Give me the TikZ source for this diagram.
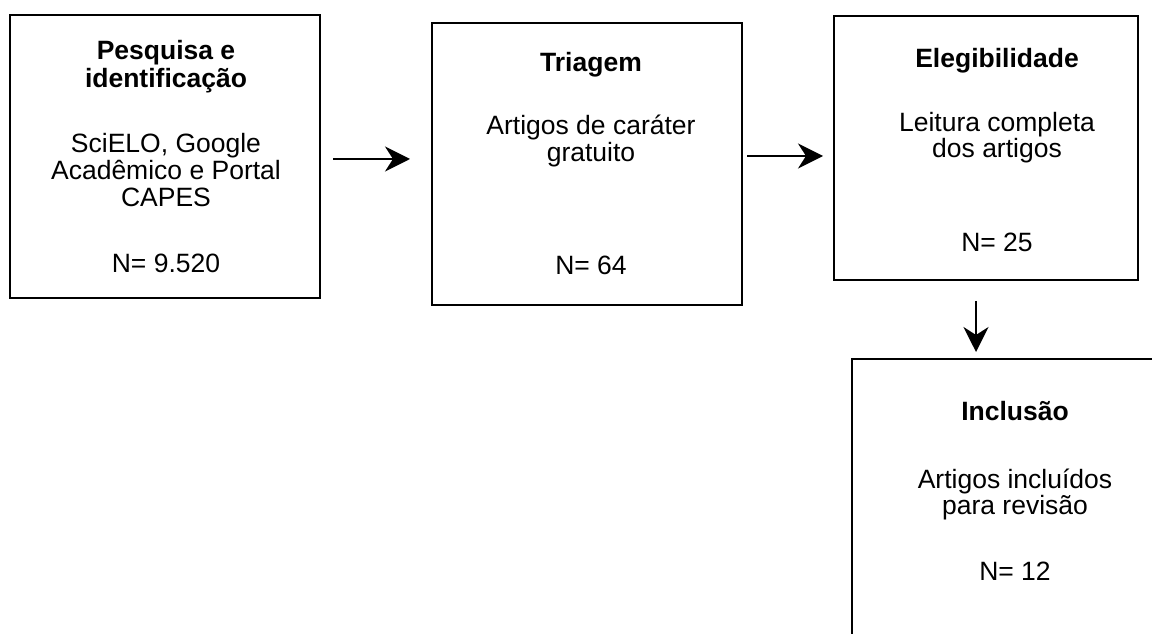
\documentclass[tikz,border=0pt]{standalone}
\usepackage{fontspec}
\setmainfont{Liberation Sans}
\usetikzlibrary{arrows.meta}
\begin{document}
\begin{tikzpicture}[x=1pt,y=1pt,
  box/.style={draw=black,line width=2pt,rectangle,inner sep=0pt},
  ln/.style={anchor=base,inner sep=0pt,font=\fontsize{26.5}{30}\selectfont},
  hd/.style={ln,font=\fontsize{26.5}{30}\selectfont\bfseries},
  arr/.style={line width=2pt,-{Stealth[length=25pt,width=25pt,inset=8pt]}}]
\clip (0,0) rectangle (1152,633);
\fill[white] (0,0) rectangle (1152,633);
% boxes
\node[box,minimum width=310pt,minimum height=283pt] (b1) at (165,476.5) {};
\node[box,minimum width=310pt,minimum height=282pt] (b2) at (587,469) {};
\node[box,minimum width=304pt,minimum height=264pt] (b3) at (986,485) {};
\node[box,minimum width=330pt,minimum height=300pt] (b4) at (1017,124) {};
% box 1 text
\node[hd] (t1a) at (166,573) {Pesquisa e};
\node[hd] (t1b) at (166,545) {identificação};
\node[ln] (t1c) at (166,480) {SciELO, Google};
\node[ln] (t1d) at (166,453) {Acadêmico e Portal};
\node[ln] (t1e) at (166,426) {CAPES};
\node[ln] (t1f) at (166,360) {N= 9.520};
% box 2 text
\node[hd] (t2a) at (591,561) {Triagem};
\node[ln] (t2b) at (591,498) {Artigos de caráter};
\node[ln] (t2c) at (591,471) {gratuito};
\node[ln] (t2d) at (591,358) {N= 64};
% box 3 text
\node[hd] (t3a) at (997,565) {Elegibilidade};
\node[ln] (t3b) at (997,501) {Leitura completa};
\node[ln] (t3c) at (997,475) {dos artigos};
\node[ln] (t3d) at (997,381) {N= 25};
% box 4 text
\node[hd] (t4a) at (1015,213) {Inclusão};
\node[ln] (t4b) at (1015,145) {Artigos incluídos};
\node[ln] (t4c) at (1015,119) {para revisão};
\node[ln] (t4d) at (1015,53) {N= 12};
% arrows
\draw[arr,shorten <=12pt,shorten >=21pt] (b1.east |- 0,474) -- (b2.west |- 0,474);
\draw[arr,shorten <=4pt,shorten >=10pt] (b2.east |- 0,477) -- (b3.west |- 0,477);
\draw[arr,shorten <=20pt,shorten >=6pt] (b3.south -| 976,0) -- (b4.north -| 976,0);
\end{tikzpicture}
\end{document}
